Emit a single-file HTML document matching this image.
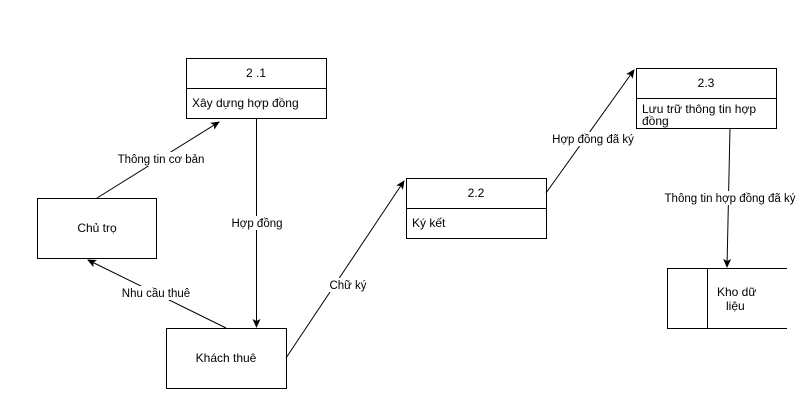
<!DOCTYPE html>
<html><head><meta charset="utf-8"><style>
body{margin:0;background:#fff;width:808px;height:406px;overflow:hidden}
text{font-family:"Liberation Sans",sans-serif;font-size:12px;fill:#000}
text.l{font-size:11.5px}
</style></head><body>
<svg width="808" height="406" xmlns="http://www.w3.org/2000/svg">
<defs><marker id="a" markerWidth="10" markerHeight="10" refX="8" refY="5" orient="auto" markerUnits="userSpaceOnUse"><path d="M0,1 L9,5 L0,9 L2,5 z" fill="#000"/></marker></defs>
<g fill="#fff" stroke="#000" stroke-width="1">
<rect x="186.5" y="58.5" width="140" height="60"/><line x1="186" y1="88.5" x2="327" y2="88.5"/>
<rect x="37.5" y="198.5" width="119" height="60"/>
<rect x="166.5" y="328.5" width="120" height="60"/>
<rect x="406.5" y="178.5" width="140" height="60"/><line x1="406" y1="208.5" x2="547" y2="208.5"/>
<rect x="636.5" y="68.5" width="140" height="60"/><line x1="636" y1="98.5" x2="777" y2="98.5"/>
<path d="M787,268.5 H667.5 V328.5 H787 M707.5,268 V329"/>
</g>
<g stroke="#000" stroke-width="1" fill="none" marker-end="url(#a)">
<line x1="97" y1="198" x2="219" y2="122"/>
<line x1="256.5" y1="118" x2="256.5" y2="327"/>
<line x1="226" y1="328" x2="88" y2="260"/>
<line x1="286" y1="358" x2="404" y2="181"/>
<line x1="546" y1="193" x2="634" y2="70"/>
<line x1="730" y1="128" x2="727" y2="267"/>
</g>
<g fill="#fff">
<rect x="115" y="152" width="92" height="14"/>
<rect x="228" y="216" width="58" height="14"/>
<rect x="118" y="286" width="76" height="14"/>
<rect x="326" y="278" width="44" height="14"/>
<rect x="550" y="132" width="86" height="14"/>
<rect x="664" y="191" width="132" height="14"/>
</g>
<text x="256" y="77" text-anchor="middle">2 .1</text>
<text x="192" y="107">Xây dựng hợp đồng</text>
<text x="97" y="232" text-anchor="middle">Chủ trọ</text>
<text x="226" y="362" text-anchor="middle">Khách thuê</text>
<text x="476" y="197" text-anchor="middle">2.2</text>
<text x="412" y="227">Ký kết</text>
<text x="706" y="87" text-anchor="middle">2.3</text>
<text x="642" y="113">Lưu trữ thông tin hợp</text>
<text x="642" y="125">đồng</text>
<text x="717" y="296">Kho dữ</text>
<text x="726" y="310">liệu</text>
<text class="l" x="161" y="163" text-anchor="middle">Thông tin cơ bản</text>
<text class="l" x="257" y="227" text-anchor="middle">Hợp đồng</text>
<text class="l" x="156" y="297" text-anchor="middle">Nhu cầu thuê</text>
<text class="l" x="348" y="289" text-anchor="middle">Chữ ký</text>
<text class="l" x="593" y="143" text-anchor="middle">Hợp đồng đã ký</text>
<text class="l" x="730" y="202" text-anchor="middle">Thông tin hợp đồng đã ký</text>
</svg>
</body></html>
